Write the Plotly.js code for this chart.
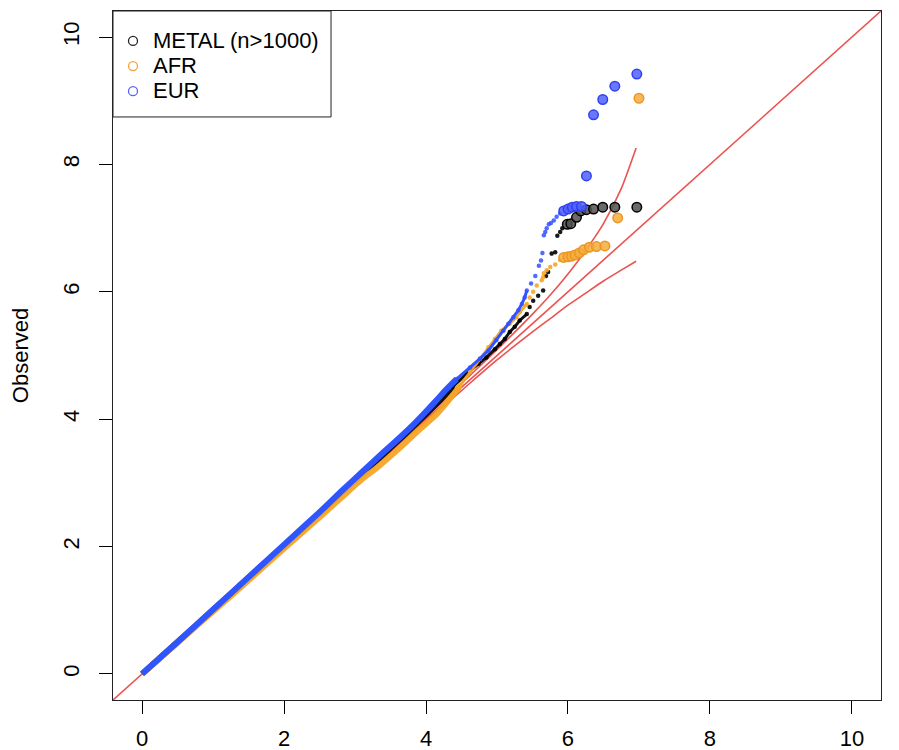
<!DOCTYPE html>
<html>
<head>
<meta charset="utf-8">
<script src="https://cdn.plot.ly/plotly-3.0.1.min.js"></script>
<style>html,body{margin:0;padding:0;background:#fff;}#chart{width:899px;height:750px;}</style>
</head>
<body>
<div id="chart"></div>
<script>
// ---- data ----
const axisRange = [-0.41, 10.41];
const tickValues = [0, 2, 4, 6, 8, 10];
const seriesNames = ["METAL (n>1000)", "AFR", "EUR"];

const metalExpected = [0,0.5,1.0,1.5,2.0,2.5,2.8,3.1,3.4,3.7,4.0,4.2,4.38,4.57,4.74,4.85,4.97,5.04,5.11,5.18,5.25,5.32,5.42,5.46,5.51,5.58,5.65,5.69,5.72,5.77,5.82,5.85,5.89,5.92,5.99,6.04,6.12,6.18,6.26,6.36,6.49,6.66,6.97];
const metalObserved = [0,0.5,1.0,1.51,2.01,2.52,2.84,3.15,3.45,3.76,4.08,4.30,4.51,4.71,4.87,4.97,5.10,5.18,5.26,5.37,5.45,5.55,5.65,5.76,5.86,5.94,6.02,6.25,6.31,6.60,6.62,6.88,6.94,7.00,7.06,7.07,7.17,7.27,7.29,7.30,7.33,7.33,7.33];

const afrExpected = [0,0.5,1.0,1.5,2.0,2.5,2.8,3.1,3.3,3.59,3.9,4.15,4.38,4.48,4.62,4.76,4.88,4.97,5.06,5.18,5.27,5.32,5.42,5.46,5.51,5.56,5.63,5.65,5.66,5.70,5.75,5.82,5.89,5.94,6.00,6.05,6.10,6.16,6.22,6.30,6.40,6.52,6.70,7.0];
const afrObserved = [0,0.49,0.98,1.47,1.97,2.46,2.76,3.06,3.23,3.51,3.83,4.08,4.38,4.53,4.74,4.95,5.13,5.26,5.39,5.50,5.60,5.68,5.81,5.91,6.00,6.10,6.18,6.23,6.29,6.34,6.39,6.43,6.50,6.54,6.55,6.56,6.58,6.61,6.66,6.70,6.71,6.72,7.16,9.04];

const eurExpected = [0,0.5,1.0,1.5,2.0,2.5,2.8,3.1,3.4,3.6,3.8,4.0,4.15,4.27,4.43,4.62,4.76,4.88,4.99,5.09,5.16,5.23,5.30,5.35,5.39,5.42,5.48,5.54,5.59,5.62,5.64,5.66,5.68,5.70,5.73,5.76,5.80,5.84,5.89,5.94,6.00,6.06,6.12,6.19,6.26,6.36,6.49,6.66,6.97];
const eurObserved = [0,0.5,1.01,1.52,2.03,2.54,2.86,3.17,3.48,3.68,3.89,4.12,4.30,4.45,4.63,4.81,4.95,5.08,5.24,5.39,5.50,5.60,5.71,5.81,5.91,6.02,6.13,6.25,6.41,6.49,6.61,6.89,6.94,7.00,7.06,7.08,7.12,7.18,7.23,7.27,7.30,7.33,7.34,7.34,7.82,8.78,9.02,9.23,9.42];

const bandExpected = [0,2,3,4,4.5,5,5.5,5.75,6,6.25,6.5,6.75,6.96];
const bandUpper = [0,2.0,3.01,4.03,4.56,5.09,5.65,5.95,6.28,6.65,7.07,7.62,8.26];
const bandLower = [0,2.0,2.99,3.97,4.45,4.93,5.37,5.58,5.79,5.98,6.17,6.34,6.48];

// ---- styles ----
const fontFam = '"Liberation Sans", Arial, Helvetica, sans-serif';
const textSize = 22;
const red = 'rgba(232,52,48,0.85)';
const styles = [
  {line:'#111111', dot:'rgba(0,0,0,0.9)', ringFill:'rgba(80,80,80,0.85)', ringLine:'#000000', legend:'#222222', rings:9},
  {line:'rgba(246,165,38,0.95)', dot:'rgba(246,165,38,0.9)', ringFill:'rgba(246,172,62,0.85)', ringLine:'rgba(236,150,30,1)', legend:'#F3A33A', rings:11},
  {line:'#2F55FF', dot:'rgba(50,80,255,0.85)', ringFill:'rgba(80,95,255,0.85)', ringLine:'#3040F0', legend:'#5560FF', rings:10}
];
const series = [[metalExpected, metalObserved],[afrExpected, afrObserved],[eurExpected, eurObserved]];

const traces = [];
traces.push({x: axisRange, y: axisRange, mode:'lines', line:{color:red, width:1.6}, showlegend:false, hoverinfo:'skip'});
traces.push({x: bandExpected, y: bandUpper, mode:'lines', line:{color:red, width:1.6, shape:'spline', smoothing:0.6}, showlegend:false, hoverinfo:'skip'});
traces.push({x: bandExpected, y: bandLower, mode:'lines', line:{color:red, width:1.6, shape:'spline', smoothing:0.6}, showlegend:false, hoverinfo:'skip'});

series.forEach((s, k) => {
  const ex = s[0], ob = s[1], st = styles[k];
  const n = ex.length;
  const bx=[],by=[],mx=[],my=[],dx=[],dy=[],rx=[],ry=[];
  for (let i=0;i<n;i++){
    if (ex[i] <= 4.5){bx.push(ex[i]);by.push(ob[i]);}
    if (ex[i] >= 4.3 && ex[i] <= 5.45){mx.push(ex[i]);my.push(ob[i]);}
    if (i >= n - st.rings){rx.push(ex[i]);ry.push(ob[i]);}
    else if (ex[i] > 4.3){dx.push(ex[i]);dy.push(ob[i]);}
  }
  traces.push({x:bx, y:by, mode:'lines', line:{color:st.line, width:6, shape:'spline', smoothing:0.5}, showlegend:false, hoverinfo:'skip'});
  traces.push({x:mx, y:my, mode:'lines', line:{color:st.line, width:3}, showlegend:false, hoverinfo:'skip'});
  traces.push({x:dx, y:dy, mode:'markers', marker:{color:st.dot, size:4.5}, showlegend:false, hoverinfo:'skip'});
  traces.push({x:rx, y:ry, mode:'markers', marker:{color:st.ringFill, size:9.5, line:{color:st.ringLine, width:1.5}}, showlegend:false, hoverinfo:'skip'});
});

seriesNames.forEach((name, k) => {
  traces.push({x:[null], y:[null], mode:'markers',
    name:'<span style="font-size:' + textSize + 'px">' + name.replace('>', '&gt;') + '</span>',
    marker:{symbol:'circle-open', size:9, color:styles[k].legend, line:{width:1.3}}, showlegend:true});
});

const axisCommon = {
  range: axisRange, autorange:false, tickmode:'array', tickvals: tickValues, ticktext: tickValues.map(String),
  ticks:'outside', ticklen:13, tickwidth:1, tickcolor:'#000', showgrid:false, zeroline:false,
  showline:true, mirror:true, linecolor:'#222', linewidth:1,
  tickfont:{family:fontFam, size:textSize, color:'#000'}
};

const layout = {
  width:899, height:750,
  margin:{l:113, r:18, t:11, b:50, pad:0},
  paper_bgcolor:'#fff', plot_bgcolor:'#fff',
  font:{family:fontFam, size:textSize, color:'#000'},
  xaxis: Object.assign({}, axisCommon, {ticklabelstandoff:6}),
  yaxis: Object.assign({}, axisCommon, {tickangle:-90, ticklabelstandoff:11,
    title:{text:'Observed', font:{family:fontFam, size:textSize, color:'#000'}, standoff:24}}),
  showlegend:true,
  legend:{x:0.0, y:0.982, xanchor:'left', yanchor:'top', bgcolor:'rgba(0,0,0,0)', borderwidth:0,
    font:{family:fontFam, size:17, color:'#000'}, itemwidth:30, tracegroupgap:0},
  shapes:[{type:'rect', xref:'paper', yref:'paper', x0:0, x1:0.2839, y0:0.8462, y1:1, line:{color:'#222', width:1}, fillcolor:'#fff', layer:'below'}]
};

Plotly.newPlot('chart', traces, layout, {displayModeBar:false, staticPlot:true});
</script>
</body>
</html>
